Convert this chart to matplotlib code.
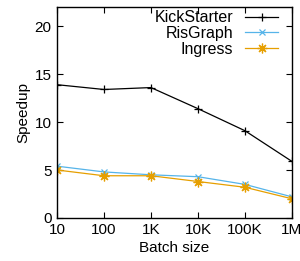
import matplotlib
matplotlib.use('Agg')
import matplotlib.pyplot as plt

plt.rcParams['font.family'] = ['Liberation Sans', 'DejaVu Sans']

batch = ['10', '100', '1K', '10K', '100K', '1M']
kickstarter = [13.9, 13.4, 13.6, 11.4, 9.1, 5.9]
risgraph = [5.4, 4.8, 4.5, 4.3, 3.5, 2.2]
ingress = [5.0, 4.4, 4.4, 3.8, 3.2, 2.0]

x = list(range(len(batch)))

fig = plt.figure(figsize=(3.0, 2.61), dpi=100)
ax = fig.add_axes([0.19, 0.165, 0.783, 0.808])

ax.plot(x, kickstarter, color='black', lw=0.9, marker='+', ms=6, mew=0.9, label='KickStarter')
ax.plot(x, risgraph, color='#56b4e9', lw=0.9, marker='x', ms=5, mew=0.9, label='RisGraph')
ax.plot(x, ingress, color='#e69f00', lw=0.9, marker=(8, 2, 0), ms=7, mew=0.9, label='Ingress')

ax.set_xlim(0, 5)
ax.set_ylim(0, 22)
ax.set_xticks(x)
ax.set_xticklabels(batch)
ax.set_yticks([0, 5, 10, 15, 20])
ax.tick_params(direction='in', top=True, right=True, labelsize=11, length=4, width=0.8, pad=4)
for s in ax.spines.values():
    s.set_linewidth(1.0)

ax.set_xlabel('Batch size', fontsize=11, labelpad=2.5)
ax.set_ylabel('Speedup', fontsize=11, labelpad=3)

ax.legend(loc='upper right', frameon=False, markerfirst=False, fontsize=11.5,
          handlelength=2.1, handletextpad=0.75, labelspacing=0.05,
          borderaxespad=0.0, bbox_to_anchor=(0.97, 1.015))

fig.savefig('out.png', dpi=100)
